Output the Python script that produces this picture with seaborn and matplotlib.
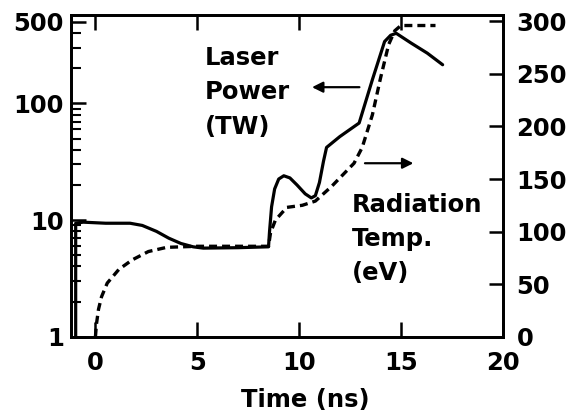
import numpy as np
import pandas as pd
import seaborn as sns
import matplotlib.pyplot as plt
from matplotlib.ticker import FixedLocator, NullFormatter

# laser power (TW), left log axis
laser_t = [-0.97, -0.97, -0.6, 0.5, 1.7, 2.3, 3.0, 3.6, 4.2, 4.8, 5.3, 7.0,
           8.5, 8.55, 8.65, 8.8, 9.0, 9.25, 9.55, 9.9, 10.3, 10.6, 10.8,
           11.0, 11.2, 11.35, 12.0, 12.95, 13.6, 14.2, 14.5, 14.77, 15.5,
           16.3, 17.05]
laser_p = [1.0, 9.4, 9.6, 9.4, 9.4, 9.0, 8.0, 7.0, 6.3, 5.9, 5.75, 5.8,
           5.9, 8.0, 13, 18.5, 22.5, 24, 23, 20, 16.8, 15.5, 16.2,
           21, 32, 42, 52, 68, 160, 340, 385, 400, 330,
           270, 215]

# radiation temperature (eV), right linear axis
temp_t = [0, 0.05, 0.15, 0.3, 0.58, 1.15, 1.8, 2.6, 3.5, 5.0, 8.5, 8.6,
          8.84, 9.4, 10.16, 10.8, 11.6, 12.7, 13.1, 13.6, 14.0, 14.4, 14.7,
          15.0, 16.7]
temp_ev = [0, 12, 26, 38, 51, 64, 73, 81, 85, 86, 86, 99,
           111, 123, 125, 129, 143, 165, 180, 211, 246, 278, 291,
           296, 296]

x_ticks = [0, 5, 10, 15, 20]
left_ticks = [1, 10, 100, 500]
left_minor = [2, 3, 4, 5, 6, 7, 8, 9, 20, 30, 40, 50, 60, 70, 80, 90,
              200, 300, 400]
right_ticks = [0, 50, 100, 150, 200, 250, 300]

sns.set_style("ticks")
plt.rcParams['font.family'] = ['DejaVu Sans']
plt.rcParams.update({
    'font.weight': 'bold',
    'axes.labelweight': 'bold',
    'font.size': 17.5,
    'text.color': 'black',
    'axes.labelcolor': 'black',
    'axes.edgecolor': 'black',
    'xtick.color': 'black',
    'ytick.color': 'black',
})

laser_df = pd.DataFrame({'t': laser_t, 'p': laser_p})
temp_df = pd.DataFrame({'t': temp_t, 'T': temp_ev})

fig = plt.figure(figsize=(5.71, 4.19), dpi=100)
ax = fig.add_axes([71 / 571, 1 - 336.7 / 419, 431.7 / 571, 321.7 / 419])
ax2 = ax.twinx()

sns.lineplot(data=laser_df, x='t', y='p', ax=ax, color='black', lw=2.3,
             estimator=None, sort=False)
sns.lineplot(data=temp_df, x='t', y='T', ax=ax2, color='black', lw=2.4,
             linestyle=(0, (2.4, 1.5)), estimator=None, sort=False)

ax.set_yscale('log')
ax.set_xlim(-1.2, 20)
ax.set_ylim(1, 10 ** 2.759)
ax2.set_ylim(0, 306)

ax.set_xticks(x_ticks)
ax.yaxis.set_major_locator(FixedLocator(left_ticks))
ax.set_yticklabels([str(v) for v in left_ticks])
ax.yaxis.set_minor_locator(FixedLocator(left_minor))
ax.yaxis.set_minor_formatter(NullFormatter())
ax2.set_yticks(right_ticks)
ax2.set_yticklabels([str(v) for v in right_ticks])

ax.tick_params(axis='x', which='major', direction='in', length=11, width=1.8,
               top=True, pad=10)
ax.tick_params(axis='y', which='major', direction='in', length=11, width=1.8,
               pad=5)
ax.tick_params(axis='y', which='minor', direction='in', length=7, width=1.5,
               left=True)
ax2.tick_params(axis='y', direction='in', length=10, width=1.8, pad=10)

for a in (ax, ax2):
    for s in a.spines.values():
        s.set_linewidth(2.0)
        s.set_visible(True)

ax.set_ylabel('')
ax2.set_ylabel('')
ax.set_xlabel('Time (ns)')
ax.xaxis.set_label_coords(0.543, -0.16)

fig.text(205 / 571, 1 - 46 / 419, 'Laser\nPower\n(TW)', va='top', ha='left',
         linespacing=1.55)
fig.text(351.7 / 571, 1 - 192.5 / 419, 'Radiation\nTemp.\n(eV)', va='top',
         ha='left', linespacing=1.55)

ax.annotate('', xy=(10.5, 138), xytext=(13.1, 138),
            arrowprops=dict(arrowstyle='-|>', color='black', lw=1.6,
                            mutation_scale=16))
ax2.annotate('', xy=(15.75, 165), xytext=(13.1, 165),
             arrowprops=dict(arrowstyle='-|>', color='black', lw=1.6,
                             mutation_scale=16))

fig.savefig('out.png', dpi=100)
